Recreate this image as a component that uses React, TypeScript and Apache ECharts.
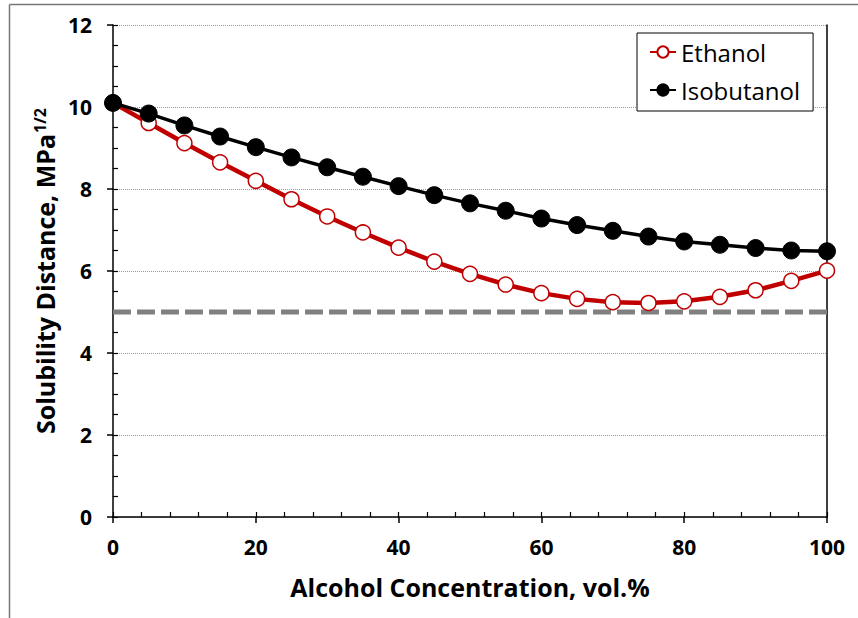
import React, { useEffect, useRef } from "react";
import * as echarts from "echarts";

const concentrations = [0, 5, 10, 15, 20, 25, 30, 35, 40, 45, 50, 55, 60, 65, 70, 75, 80, 85, 90, 95, 100];
const ethanol = [10.1, 9.61, 9.12, 8.65, 8.2, 7.75, 7.33, 6.94, 6.57, 6.23, 5.93, 5.67, 5.46, 5.32, 5.24, 5.22, 5.26, 5.37, 5.53, 5.76, 6.01];
const isobutanol = [10.1, 9.84, 9.55, 9.28, 9.02, 8.77, 8.53, 8.3, 8.07, 7.85, 7.65, 7.47, 7.28, 7.12, 6.98, 6.84, 6.72, 6.64, 6.56, 6.5, 6.48];
const threshold = 5;
const thresholdRange = [0, 100];
const seriesNames = ["Ethanol", "Isobutanol"];

const FONT = "Open Sans";

export default function App() {
  const ref = useRef<HTMLDivElement>(null);
  useEffect(() => {
    if (!ref.current) return;
    const chart = echarts.init(ref.current, null, { renderer: "svg" });
    const pts = (ys: number[]) => concentrations.map((x, i) => [x, ys[i]]);
    chart.setOption({
      animation: false,
      backgroundColor: "#fff",
      grid: { left: 113, right: 31, top: 25, bottom: 101, containLabel: false },
      legend: {
        data: seriesNames,
        orient: "vertical",
        left: 637,
        top: 33,
        padding: [5, 13, 7, 12],
        itemGap: 10,
        itemWidth: 26,
        itemHeight: 14,
        borderColor: "#000",
        borderWidth: 1,
        borderRadius: 0,
        backgroundColor: "#fff",
        textStyle: { fontFamily: FONT, fontSize: 24, color: "#000", lineHeight: 28 },
      },
      xAxis: [
        {
          type: "value",
          min: 0,
          max: 100,
          interval: 20,
          name: "Alcohol Concentration, vol.%",
          nameLocation: "middle",
          nameGap: 57,
          nameTextStyle: { fontFamily: FONT, fontWeight: "bold", fontSize: 25, color: "#000" },
          axisLine: { show: true, lineStyle: { color: "#000", width: 1.5 } },
          axisTick: { show: true, inside: false, length: 6, lineStyle: { color: "#000", width: 1.5 } },
          axisLabel: { fontFamily: FONT, fontWeight: "bold", fontSize: 21, color: "#000", margin: 19 },
          splitLine: { show: false },
        },
        {
          type: "value",
          min: 0,
          max: 100,
          interval: 4,
          position: "bottom",
          axisLine: { show: false },
          axisTick: { show: true, inside: true, length: 5, lineStyle: { color: "#000", width: 1.2 } },
          axisLabel: { show: false },
          splitLine: { show: false },
        },
      ],
      yAxis: [
        {
          type: "value",
          min: 0,
          max: 12,
          interval: 2,
          name: "{a|Solubility Distance, MPa}{s|1/2}",
          nameLocation: "middle",
          nameGap: 53,
          nameTextStyle: {
            fontFamily: FONT,
            fontWeight: "bold",
            fontSize: 25,
            color: "#000",
            rich: {
              a: { fontFamily: FONT, fontWeight: "bold", fontSize: 25, color: "#000" },
              s: { fontFamily: FONT, fontWeight: "bold", fontSize: 16, color: "#000", verticalAlign: "top", padding: [0, 0, 8, 1] },
            },
          },
          axisLine: { show: true, lineStyle: { color: "#000", width: 1.5 } },
          axisTick: { show: true, inside: false, length: 6, lineStyle: { color: "#000", width: 1.5 } },
          axisLabel: { fontFamily: FONT, fontWeight: "bold", fontSize: 21, color: "#000", margin: 21 },
          splitLine: { show: true, lineStyle: { color: "#999", width: 1, type: [1, 1] } },
        },
        {
          type: "value",
          min: 0,
          max: 12,
          interval: 0.5,
          position: "left",
          axisLine: { show: false },
          axisTick: { show: true, inside: true, length: 5, lineStyle: { color: "#000", width: 1.2 } },
          axisLabel: { show: false },
          splitLine: { show: false },
        },
        {
          type: "value",
          min: 0,
          max: 12,
          position: "right",
          axisLine: { show: true, lineStyle: { color: "#000", width: 1.5 } },
          axisTick: { show: false },
          axisLabel: { show: false },
          splitLine: { show: false },
        },
      ],
      series: [
        {
          name: "threshold",
          type: "line",
          data: thresholdRange.map((x) => [x, threshold]),
          symbol: "none",
          lineStyle: { color: "#808080", width: 5, type: [18, 6] },
          silent: true,
          z: 1,
        },
        {
          name: seriesNames[0],
          type: "line",
          data: pts(ethanol),
          symbol: "circle",
          symbolSize: 15,
          lineStyle: { color: "#C00000", width: 4.5 },
          itemStyle: { color: "#fff", borderColor: "#C00000", borderWidth: 1.5 },
          z: 2,
        },
        {
          name: seriesNames[1],
          type: "line",
          data: pts(isobutanol),
          symbol: "circle",
          symbolSize: 17,
          lineStyle: { color: "#000", width: 3.5 },
          itemStyle: { color: "#000", borderColor: "#000", borderWidth: 1 },
          z: 3,
        },
      ],
      graphic: [
        { type: "line", shape: { x1: 9.5, y1: 4.5, x2: 858, y2: 4.5 }, style: { stroke: "#777", lineWidth: 1.5 } },
        { type: "line", shape: { x1: 9.5, y1: 4.5, x2: 9.5, y2: 618 }, style: { stroke: "#777", lineWidth: 1.5 } },
      ],
    });
    return () => chart.dispose();
  }, []);
  return <div ref={ref} style={{ position: "fixed", left: 0, top: 0, width: 858, height: 618 }} />;
}
